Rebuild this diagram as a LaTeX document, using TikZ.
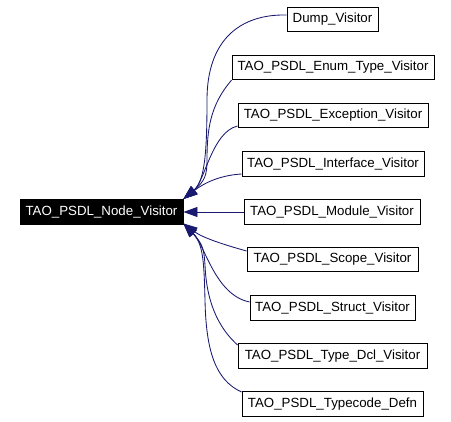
\documentclass[tikz,border=0pt]{standalone}
\usepackage{fontspec}
\setmainfont{Liberation Sans}
\usetikzlibrary{arrows.meta}
\definecolor{edgeblue}{HTML}{191970}
\begin{document}
\begin{tikzpicture}[x=1pt,y=-1pt,
  cls/.style={draw=black,line width=0.9pt,fill=white,inner sep=0pt,minimum height=24.5pt,font=\fontsize{13.3}{15}\selectfont,text=black},
  rootcls/.style={cls,fill=black,text=white},
  edge/.style={draw=edgeblue,line width=0.85pt,-{Triangle[length=14pt,width=10pt]},shorten >=0pt}]
\useasboundingbox (0,0) rectangle (451,422);
\node[rootcls,minimum width=163pt] (root) at (101.5,212) {TAO\_PSDL\_Node\_Visitor};
\node[cls,minimum width=91pt] (dump) at (332.5,19.5) {Dump\_Visitor};
\node[cls,minimum width=202pt] (enum) at (333,67.5) {TAO\_PSDL\_Enum\_Type\_Visitor};
\node[cls,minimum width=190pt] (exc) at (333,115.5) {TAO\_PSDL\_Exception\_Visitor};
\node[cls,minimum width=182pt] (intf) at (333,164) {TAO\_PSDL\_Interface\_Visitor};
\node[cls,minimum width=176pt] (mod) at (332,212) {TAO\_PSDL\_Module\_Visitor};
\node[cls,minimum width=171pt] (scope) at (332.5,259.5) {TAO\_PSDL\_Scope\_Visitor};
\node[cls,minimum width=165pt] (struct) at (332.5,308) {TAO\_PSDL\_Struct\_Visitor};
\node[cls,minimum width=189pt] (tdcl) at (332.5,356) {TAO\_PSDL\_Type\_Dcl\_Visitor};
\node[cls,minimum width=181pt] (tcode) at (332.5,404) {TAO\_PSDL\_Typecode\_Defn};
\coordinate (tipT) at ([yshift=13pt]root.east);
\coordinate (tipB) at ([yshift=-11.5pt]root.east);
% upper edges
\draw[edge] ([yshift=4.5pt]dump.west) .. controls (240,14) and (207,40) .. (207,100) .. controls (207,150) and (205,181) .. (tipT);
\draw[edge] (enum.south west) .. controls (210,105) and (207,130) .. (207,160) .. controls (207,175) and (205,181) .. (tipT);
\draw[edge] ([yshift=-10.5pt]exc.west) .. controls (212,132) and (205,181) .. (tipT);
\draw[edge] ([yshift=-10pt]intf.west) .. controls (225,175) and (208,180) .. (tipT);
% middle
\draw[edge] (mod.west) -- (root.east);
% lower edges
\draw[edge] ([yshift=8.5pt]scope.west) .. controls (225,245) and (203,238) .. (tipB);
\draw[edge] ([yshift=6pt]struct.west) .. controls (215,295) and (205,245) .. (tipB);
\draw[edge] ([yshift=11pt]tdcl.west) .. controls (212,322) and (206,290) .. (205,265) .. controls (204,250) and (203,244) .. (tipB);
\draw[edge] ([yshift=12pt]tcode.west) .. controls (215,380) and (206,350) .. (205,300) .. controls (204,260) and (203,244) .. (tipB);
\end{tikzpicture}
\end{document}
